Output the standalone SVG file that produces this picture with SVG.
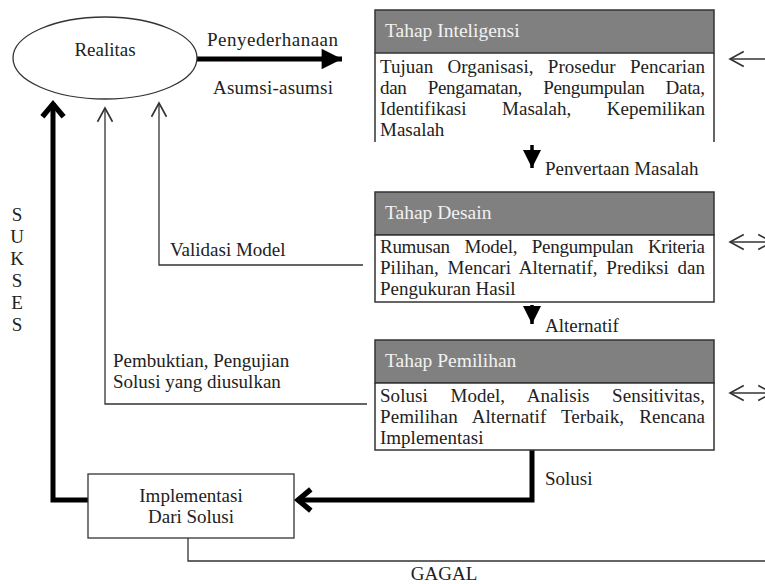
<svg xmlns="http://www.w3.org/2000/svg" width="765" height="584" viewBox="0 0 765 584">
<style>
text{font-family:"Liberation Serif","Times New Roman",serif;font-size:19px;fill:#222}
.hdr{fill:#808080;stroke:#333;stroke-width:1.5}
.hdrt{fill:#f2f2f2;font-size:19.5px}
.body{fill:#fff;stroke:#333;stroke-width:1.5}
.thin{fill:none;stroke:#333;stroke-width:1.3}
.thick{fill:none;stroke:#000;stroke-width:5}
.mid{fill:none;stroke:#000;stroke-width:3.5}
</style>
<defs>
<marker id="openThin" markerUnits="userSpaceOnUse" markerWidth="20" markerHeight="20" viewBox="-14 -8 16 16" refX="0" refY="0" orient="auto-start-reverse">
<path d="M-11,-6 L0,0 L-11,6" fill="none" stroke="#333" stroke-width="1.3"/>
</marker>
<marker id="openThick" markerUnits="userSpaceOnUse" markerWidth="34" markerHeight="34" viewBox="-20 -16 26 32" refX="0" refY="0" orient="auto">
<path d="M-13,-10 L-1,0 L-13,10" fill="none" stroke="#000" stroke-width="5" stroke-linejoin="miter" stroke-miterlimit="10"/>
</marker>
<marker id="tri" markerUnits="userSpaceOnUse" markerWidth="24" markerHeight="24" viewBox="-18 -10 20 20" refX="0" refY="0" orient="auto">
<path d="M-17,-8.5 L0,0 L-17,8.5 Z" fill="#000"/>
</marker>
<marker id="triS" markerUnits="userSpaceOnUse" markerWidth="24" markerHeight="24" viewBox="-18 -10 20 20" refX="0" refY="0" orient="auto">
<path d="M-15,-7.5 L0,0 L-15,7.5 Z" fill="#000"/>
</marker>
</defs>

<g id="connectors">
<line class="thick" x1="197" y1="59" x2="342" y2="59" marker-end="url(#tri)"/>
<line class="mid" x1="532" y1="145" x2="532" y2="168" marker-end="url(#triS)"/>
<line class="mid" x1="532" y1="305" x2="532" y2="324" marker-end="url(#triS)"/>
<polyline class="thick" points="532,450 532,500 297,500" marker-end="url(#openThick)"/>
<polyline class="thick" points="88,500 53,500 53,103" marker-end="url(#openThick)"/>
<polyline class="thin" points="363,265 159,265 159,103" marker-end="url(#openThin)"/>
<polyline class="thin" points="367,404 105,404 105,108" marker-end="url(#openThin)"/>
<polyline class="thin" points="188,538 188,561 766,561"/>
<line class="thin" x1="766" y1="59" x2="730" y2="59" marker-end="url(#openThin)"/>
<line class="thin" x1="730" y1="242" x2="772" y2="242" marker-start="url(#openThin)" marker-end="url(#openThin)"/>
<line class="thin" x1="730" y1="393" x2="772" y2="393" marker-start="url(#openThin)" marker-end="url(#openThin)"/>
<text x="207" y="46" textLength="131" lengthAdjust="spacing">Penyederhanaan</text>
<text x="213" y="94" textLength="120" lengthAdjust="spacing">Asumsi-asumsi</text>
<text x="545" y="175">Penvertaan Masalah</text>
<text x="545" y="332">Alternatif</text>
<text x="545" y="485">Solusi</text>
<text x="170" y="256">Validasi Model</text>
<text x="113" y="367">Pembuktian, Pengujian</text>
<text x="113" y="388">Solusi yang diusulkan</text>
<text x="444" y="580" text-anchor="middle">GAGAL</text>
<g text-anchor="middle">
<text x="17" y="221">S</text>
<text x="17" y="243">U</text>
<text x="17" y="265">K</text>
<text x="17" y="287">S</text>
<text x="17" y="309">E</text>
<text x="17" y="331">S</text>
</g>
</g>

<g id="realitas">
<ellipse cx="105" cy="58" rx="92" ry="41" fill="#fff" stroke="#333" stroke-width="1.3"/>
<text x="105" y="56" text-anchor="middle">Realitas</text>
</g>

<g id="tahap-inteligensi">
<rect class="hdr" x="375" y="10" width="339" height="43"/>
<text class="hdrt" x="385" y="37">Tahap Inteligensi</text>
<path d="M375,53 V142 M714,53 V142" fill="none" stroke="#333" stroke-width="1.5"/>
<text x="380" y="73" word-spacing="9.5" textLength="325" lengthAdjust="spacing">Tujuan Organisasi, Prosedur Pencarian</text>
<text x="380" y="94" word-spacing="16.7" textLength="325" lengthAdjust="spacing">dan Pengamatan, Pengumpulan Data,</text>
<text x="380" y="115" word-spacing="30.8" textLength="325" lengthAdjust="spacing">Identifikasi Masalah, Kepemilikan</text>
<text x="380" y="136">Masalah</text>
</g>

<g id="tahap-desain">
<rect class="hdr" x="375" y="192" width="339" height="43"/>
<rect class="body" x="375" y="235" width="339" height="67"/>
<text class="hdrt" x="385" y="219">Tahap Desain</text>
<text x="380" y="253" word-spacing="10.2" textLength="325" lengthAdjust="spacing">Rumusan Model, Pengumpulan Kriteria</text>
<text x="380" y="274" word-spacing="3.9" textLength="325" lengthAdjust="spacing">Pilihan, Mencari Alternatif, Prediksi dan</text>
<text x="380" y="295">Pengukuran Hasil</text>
</g>

<g id="tahap-pemilihan">
<rect class="hdr" x="375" y="340" width="339" height="43"/>
<rect class="body" x="375" y="383" width="339" height="67"/>
<text class="hdrt" x="385" y="367">Tahap Pemilihan</text>
<text x="380" y="402" word-spacing="17.9" textLength="325" lengthAdjust="spacing">Solusi Model, Analisis Sensitivitas,</text>
<text x="380" y="423" word-spacing="10.2" textLength="325" lengthAdjust="spacing">Pemilihan Alternatif Terbaik, Rencana</text>
<text x="380" y="444">Implementasi</text>
</g>

<g id="implementasi">
<rect x="88" y="474" width="206" height="64" fill="#fff" stroke="#333" stroke-width="1.3"/>
<text x="191" y="502" text-anchor="middle">Implementasi</text>
<text x="191" y="523" text-anchor="middle">Dari Solusi</text>
</g>
</svg>
